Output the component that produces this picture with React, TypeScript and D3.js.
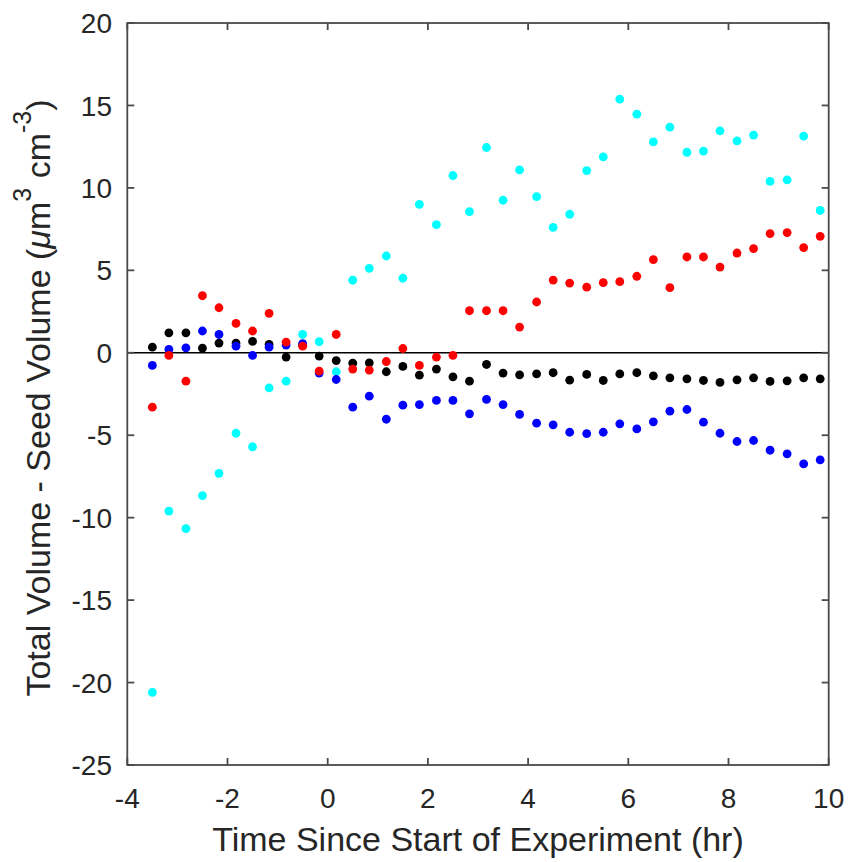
import React from "react";
import * as d3 from "d3";

const times = [
  -3.5, -3.17, -2.83, -2.5, -2.17, -1.83, -1.5, -1.17, -0.83, -0.5, -0.17,
  0.17, 0.5, 0.83, 1.17, 1.5, 1.83, 2.17, 2.5, 2.83, 3.17, 3.5, 3.83, 4.17,
  4.5, 4.83, 5.17, 5.5, 5.83, 6.17, 6.5, 6.83, 7.17, 7.5, 7.83, 8.17, 8.5,
  8.83, 9.17, 9.5, 9.83,
];

const blackValues = [
  0.34, 1.21, 1.21, 0.28, 0.59, 0.59, 0.69, 0.51, -0.26, 0.45, -0.2, -0.47,
  -0.63, -0.61, -1.15, -0.83, -1.36, -0.99, -1.46, -1.72, -0.71, -1.23, -1.34,
  -1.28, -1.21, -1.66, -1.31, -1.68, -1.28, -1.21, -1.4, -1.52, -1.58, -1.68,
  -1.8, -1.64, -1.52, -1.74, -1.7, -1.52, -1.58,
];

const blueValues = [
  -0.77, 0.2, 0.3, 1.32, 1.11, 0.4, -0.16, 0.34, 0.47, 0.55, -1.23, -1.62,
  -3.3, -2.63, -4.03, -3.18, -3.14, -2.89, -2.89, -3.7, -2.83, -3.14, -3.74,
  -4.27, -4.37, -4.82, -4.9, -4.82, -4.31, -4.62, -4.19, -3.54, -3.44, -4.21,
  -4.88, -5.38, -5.32, -5.91, -6.13, -6.74, -6.5,
];

const redValues = [
  -3.3, -0.16, -1.72, 3.46, 2.73, 1.78, 1.32, 2.39, 0.65, 0.4, -1.11, 1.11,
  -0.99, -1.05, -0.53, 0.26, -0.77, -0.26, -0.16, 2.55, 2.55, 2.55, 1.56, 3.08,
  4.41, 4.23, 3.98, 4.25, 4.31, 4.64, 5.65, 3.95, 5.81, 5.81, 5.2, 6.05, 6.32,
  7.23, 7.29, 6.38, 7.06,
];

const cyanValues = [
  -20.6, -9.6, -10.67, -8.66, -7.31, -4.88, -5.7, -2.13, -1.72, 1.11, 0.67,
  -1.15, 4.4, 5.12, 5.87, 4.52, 9.0, 7.77, 10.75, 8.56, 12.45, 9.25, 11.09,
  9.47, 7.61, 8.4, 11.05, 11.88, 15.38, 14.47, 12.79, 13.68, 12.16, 12.23,
  13.46, 12.85, 13.2, 10.39, 10.49, 13.14, 8.63,
];

const seriesNames = ["black", "cyan", "blue", "red"];
const seriesColors = ["#000000", "#00ffff", "#0000ff", "#ff0000"];
const seriesValues = [blackValues, cyanValues, blueValues, redValues];

const xTicks = [-4, -2, 0, 2, 4, 6, 8, 10];
const yTicks = [-25, -20, -15, -10, -5, 0, 5, 10, 15, 20];

const W = 850;
const H = 862;
const left = 127.3;
const right = 828.7;
const top = 23;
const bottom = 765;

export default function App() {
  const x = d3.scaleLinear().domain([-4, 10]).range([left, right]);
  const y = d3.scaleLinear().domain([-25, 20]).range([bottom, top]);
  const axisColor = "#4a4a4a";
  const tickLen = 7;
  const font = "'Liberation Sans', Arial, Helvetica, sans-serif";

  return (
    <svg
      width={W}
      height={H}
      style={{ position: "absolute", left: 0, top: 0, background: "#fff" }}
    >
      <rect x={0} y={0} width={W} height={H} fill="#fff" />
      {/* zero line */}
      <line x1={left} x2={right} y1={y(0)} y2={y(0)} stroke="#000" strokeWidth={1.6} />
      {/* points */}
      {seriesValues.map((vals, s) => (
        <g key={seriesNames[s]} fill={seriesColors[s]}>
          {vals.map((v, i) => (
            <circle key={i} cx={x(times[i])} cy={y(v)} r={4.4} />
          ))}
        </g>
      ))}
      {/* box */}
      <rect
        x={left}
        y={top}
        width={right - left}
        height={bottom - top}
        fill="none"
        stroke={axisColor}
        strokeWidth={1.8}
      />
      {/* x ticks */}
      {xTicks.map((t) => (
        <g key={"x" + t}>
          <line x1={x(t)} x2={x(t)} y1={bottom} y2={bottom - tickLen} stroke={axisColor} strokeWidth={1.8} />
          <line x1={x(t)} x2={x(t)} y1={top} y2={top + tickLen} stroke={axisColor} strokeWidth={1.8} />
          <text
            x={x(t)}
            y={808}
            textAnchor="middle"
            fontFamily={font}
            fontSize={28}
            fill="#262626"
          >
            {t}
          </text>
        </g>
      ))}
      {/* y ticks */}
      {yTicks.map((t) => (
        <g key={"y" + t}>
          <line x1={left} x2={left + tickLen} y1={y(t)} y2={y(t)} stroke={axisColor} strokeWidth={1.8} />
          <line x1={right} x2={right - tickLen} y1={y(t)} y2={y(t)} stroke={axisColor} strokeWidth={1.8} />
          <text
            x={112}
            y={y(t)}
            dy="0.36em"
            textAnchor="end"
            fontFamily={font}
            fontSize={28}
            fill="#262626"
          >
            {t}
          </text>
        </g>
      ))}
      {/* x title */}
      <text
        x={(left + right) / 2}
        y={851}
        textAnchor="middle"
        fontFamily={font}
        fontSize={34}
        fill="#262626"
      >
        Time Since Start of Experiment (hr)
      </text>
      {/* y title */}
      <text
        transform={`translate(50, ${(top + bottom) / 2 + 4}) rotate(-90)`}
        textAnchor="middle"
        fontFamily={font}
        fontSize={34}
        fill="#262626"
      >
        Total Volume - Seed Volume (<tspan fontStyle="italic">μ</tspan>m
        <tspan fontSize={25} dy={-19}>3</tspan>
        <tspan dy={19}> cm</tspan>
        <tspan fontSize={25} dy={-19}>-3</tspan>
        <tspan dy={19}>)</tspan>
      </text>
    </svg>
  );
}
